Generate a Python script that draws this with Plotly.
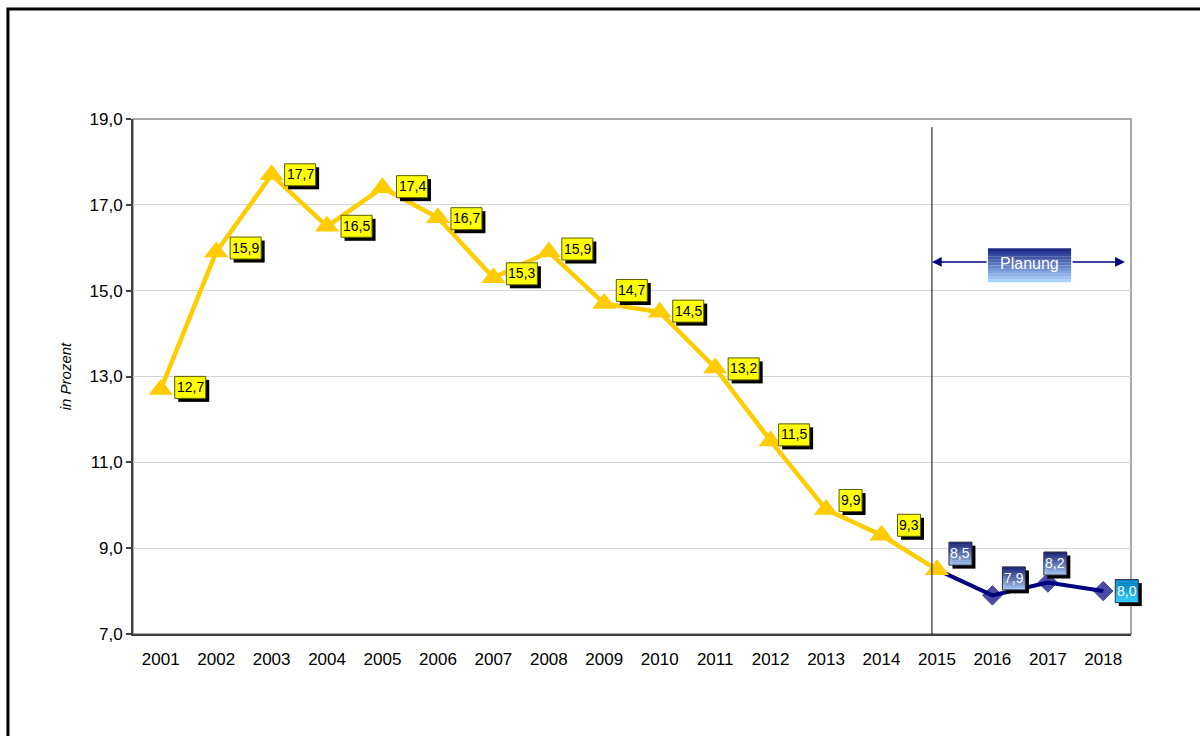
import plotly.graph_objects as go

# ---------------- data ----------------
years = ["2001", "2002", "2003", "2004", "2005", "2006", "2007", "2008", "2009",
         "2010", "2011", "2012", "2013", "2014", "2015", "2016", "2017", "2018"]
actual_values = [12.7, 15.9, 17.7, 16.5, 17.4, 16.7, 15.3, 15.9, 14.7,
                 14.5, 13.2, 11.5, 9.9, 9.3, 8.5]
plan_values = [8.5, 7.9, 8.2, 8.0]          # 2015 - 2018
y_ticks = [7, 9, 11, 13, 15, 17, 19]
plan_label = "Planung"
y_title = "in Prozent"

# ---------------- label layout (pixel offsets) ----------------
act_dx = [14, 14, 13, 14, 14, 13, 13, 13, 12, 13, 13, 8, 13, 16]
act_dy = [2, 4, 0, 0, 1, -1, 4, 3, 13, 1, -1, 6, 9, 10]
plan_dx = [12, 10, -4, 12]
plan_dy = [16, 17, 19, 0]

FONT = "Arial, Liberation Sans, sans-serif"
YELLOW = "#FFCC00"
NAVY = "#000080"
X_RANGE = [-0.5, 17.5]
Y_RANGE = [7, 19]

x_act = list(range(len(actual_values)))
x_plan = list(range(14, 14 + len(plan_values)))

def fmt(v):
    return f"{v:.1f}".replace(".", ",")

def lerp(c1, c2, t):
    a = [int(c1[i:i + 2], 16) for i in (1, 3, 5)]
    b = [int(c2[i:i + 2], 16) for i in (1, 3, 5)]
    return "#%02x%02x%02x" % tuple(round(a[k] + (b[k] - a[k]) * t) for k in range(3))

def to_paper_x(x):
    return (x - X_RANGE[0]) / (X_RANGE[1] - X_RANGE[0])

def to_paper_y(y):
    return (y - Y_RANGE[0]) / (Y_RANGE[1] - Y_RANGE[0])

fig = go.Figure()

# plan series (drawn first so the 2015 triangle lies on top)
fig.add_trace(go.Scatter(
    x=x_plan, y=plan_values, mode="lines+markers",
    line=dict(color=NAVY, width=4),
    marker=dict(symbol="diamond", size=[0, 15, 15, 15], color=NAVY,
                line=dict(width=1, color=NAVY)),
    hoverinfo="skip", showlegend=False))

fig.add_trace(go.Scatter(
    x=x_act, y=actual_values, mode="lines+markers",
    line=dict(color=YELLOW, width=4.5),
    marker=dict(symbol="triangle-up", size=21, color=YELLOW, line=dict(width=0)),
    hoverinfo="skip", showlegend=False))

shapes = []
annotations = []

# outer frame
shapes.append(dict(type="rect", xref="paper", yref="paper",
                   x0=-0.1253, x1=1.12, y0=-0.35, y1=1.2136,
                   line=dict(color="black", width=3), fillcolor="rgba(0,0,0,0)"))
# plot border (top/right gray)
shapes.append(dict(type="rect", xref="paper", yref="paper", x0=0, x1=1, y0=0, y1=1,
                   line=dict(color="#8c8c8c", width=1.5), layer="below"))

# separator line
shapes.append(dict(type="line", xref="x", yref="y", x0=13.91, x1=13.91, y0=7, y1=18.81,
                   line=dict(color="black", width=1)))


def label_box(xv, yv, text, dx, dy, w, h, colors, border, font_color, font_size):
    """Pixel-sized label box with drop shadow, anchored at a data point."""
    base = dict(type="rect", xref="paper", yref="paper", xsizemode="pixel",
                ysizemode="pixel", xanchor=to_paper_x(xv), yanchor=to_paper_y(yv),
                layer="above")
    s = 3.5
    shapes.append(dict(base, x0=dx + s, x1=dx + w + s, y0=dy - h / 2 - s, y1=dy + h / 2 - s,
                       fillcolor="black", line=dict(width=0)))
    n = len(colors)
    for k in range(n):
        top = dy + h / 2 - k * h / n
        shapes.append(dict(base, x0=dx, x1=dx + w, y0=top - h / n - (0.3 if k < n - 1 else 0),
                           y1=top, fillcolor=colors[k], line=dict(width=0)))
    shapes.append(dict(base, x0=dx, x1=dx + w, y0=dy - h / 2, y1=dy + h / 2,
                       fillcolor="rgba(0,0,0,0)", line=dict(color=border, width=1)))
    annotations.append(dict(
        x=xv, y=yv, xref="x", yref="y", text=text, showarrow=False,
        xanchor="center", yanchor="middle", xshift=dx + w / 2, yshift=dy + 0.5,
        font=dict(family=FONT, size=font_size, color=font_color)))


# yellow labels
for i, v in enumerate(actual_values[:14]):
    t = fmt(v)
    w = 31 if len(t) == 4 else 23
    label_box(x_act[i], v, t, act_dx[i], act_dy[i], w, 22, ["#FFFF00"], "#5c5c00",
              "black", 14)

# blue labels with gradient
grad = [("#1c2878", "#a6c8f4"), ("#1c2878", "#a6c8f4"),
        ("#1c2878", "#a6c8f4"), ("#0088cc", "#38ccff")]
N = 12
for i, v in enumerate(plan_values):
    cols = [lerp(grad[i][0], grad[i][1], k / (N - 1)) for k in range(N)]
    label_box(x_plan[i], v, fmt(v), plan_dx[i], plan_dy[i], 23, 23, cols, "#303040",
              "white", 14)

# Planung box
bx0, bx1, by0, by1 = 14.92, 16.42, 15.20, 15.99
ay = 15.67
for k in range(N):
    t0 = by1 - (by1 - by0) * k / N
    t1 = by1 - (by1 - by0) * (k + 1) / N
    shapes.append(dict(type="rect", xref="x", yref="y", x0=bx0, x1=bx1, y0=t1 - 0.005, y1=t0,
                       fillcolor=lerp("#1e2a88", "#a8d2ff", k / (N - 1)),
                       line=dict(width=0), layer="above"))
annotations.append(dict(x=(bx0 + bx1) / 2, y=(by0 + by1) / 2 + 0.04, xref="x", yref="y",
                        text=plan_label, showarrow=False,
                        font=dict(family=FONT, size=16, color="white")))
for tip, tail in ((13.91, bx0), (17.39, bx1)):
    annotations.append(dict(x=tip, y=ay, ax=tail, ay=ay, xref="x", yref="y",
                            axref="x", ayref="y", text="", showarrow=True,
                            arrowhead=2, arrowsize=1.3, arrowwidth=1.5,
                            arrowcolor=NAVY, standoff=0, startstandoff=0))

fig.update_layout(
    width=1200, height=736,
    margin=dict(l=133, r=69, t=119, b=102),
    paper_bgcolor="white", plot_bgcolor="white",
    separators=",.",
    font=dict(family=FONT, size=17, color="black"),
    shapes=shapes, annotations=annotations,
    showlegend=False,
)
fig.update_xaxes(
    range=X_RANGE, tickvals=list(range(len(years))), ticktext=years,
    showgrid=False, zeroline=False, showline=True, linecolor="#404040", linewidth=2,
    ticks="", ticklabelstandoff=9, tickfont=dict(size=17, family=FONT),
    fixedrange=True)
fig.update_yaxes(
    range=Y_RANGE, tickvals=y_ticks, tickformat=".1f",
    showgrid=True, gridcolor="#d4d4d4", gridwidth=1, zeroline=False,
    showline=True, linecolor="#404040", linewidth=2,
    ticks="outside", ticklen=5, tickcolor="#404040", tickwidth=1.5,
    tickfont=dict(size=17, family=FONT),
    title=dict(text=y_title, font=dict(size=15, family=FONT, style="italic"), standoff=14),
    fixedrange=True)

fig.write_html("out.html", include_plotlyjs=True,
               config={"displayModeBar": False},
               post_script="document.body.style.margin='0';document.body.style.overflow='hidden';")
